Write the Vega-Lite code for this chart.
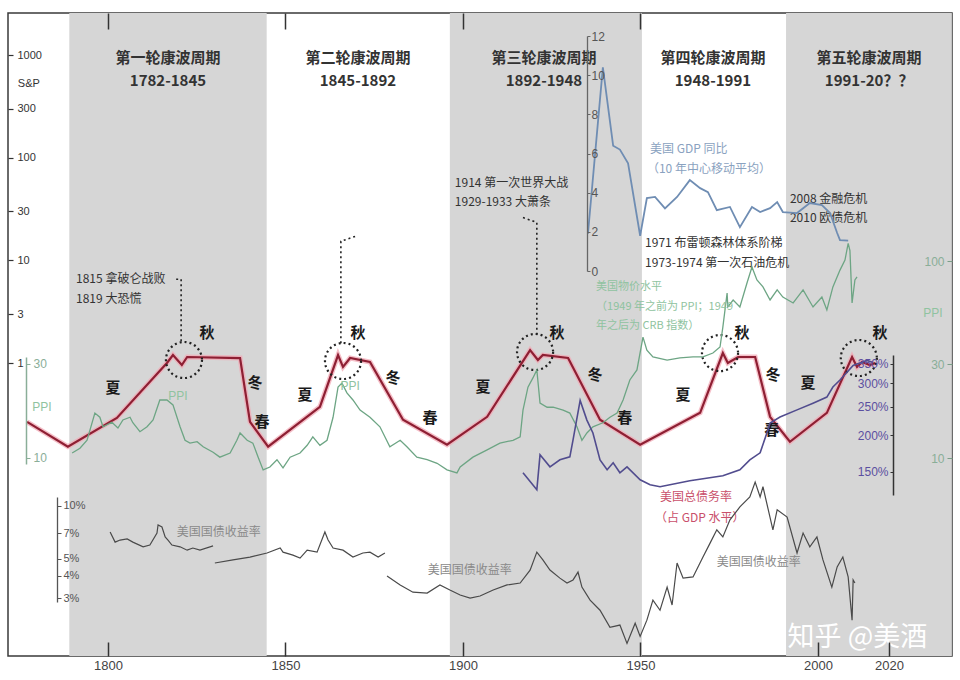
{
  "$schema": "https://vega.github.io/schema/vega-lite/v6.json",
  "width": 944,
  "height": 643,
  "autosize": {"type": "none"},
  "padding": {"left": 8, "top": 13, "right": 8, "bottom": 24},
  "background": "white",
  "config": {
    "view": {"stroke": "#3a3a3a", "strokeWidth": 1.5},
    "text": {"font": "Noto Sans CJK SC", "baseline": "middle"}
  },
  "datasets": {
    "bands": [
      {"start": 1789.1, "end": 1844.7},
      {"start": 1896.3, "end": 1950.4},
      {"start": 1991.0, "end": 2037.7}
    ],
    "titles": [
      {"year": 1816.9, "v": 935, "t": "第一轮康波周期"},
      {"year": 1816.9, "v": 559, "t": "1782-1845"},
      {"year": 1870.4, "v": 935, "t": "第二轮康波周期"},
      {"year": 1870.4, "v": 559, "t": "1845-1892"},
      {"year": 1922.8, "v": 935, "t": "第三轮康波周期"},
      {"year": 1922.8, "v": 559, "t": "1892-1948"},
      {"year": 1970.4, "v": 935, "t": "第四轮康波周期"},
      {"year": 1970.4, "v": 559, "t": "1948-1991"},
      {"year": 2014.4, "v": 935, "t": "第五轮康波周期"},
      {"year": 2014.4, "v": 559, "t": "1991-20？？"}
    ],
    "wave": [
      {"year": 1777.2, "v": 0.267}, {"year": 1788.7, "v": 0.153}, {"year": 1802.5, "v": 0.292},
      {"year": 1816.6, "v": 1.0}, {"year": 1818.3, "v": 1.196}, {"year": 1820.8, "v": 0.956},
      {"year": 1822.3, "v": 1.144}, {"year": 1837.2, "v": 1.118}, {"year": 1840.0, "v": 0.267},
      {"year": 1845.1, "v": 0.153}, {"year": 1859.7, "v": 0.374}, {"year": 1864.8, "v": 1.196},
      {"year": 1866.2, "v": 0.915}, {"year": 1868.2, "v": 1.118}, {"year": 1873.8, "v": 1.023},
      {"year": 1883.1, "v": 0.28}, {"year": 1895.5, "v": 0.16}, {"year": 1906.8, "v": 0.299},
      {"year": 1918.9, "v": 1.337}, {"year": 1921.1, "v": 1.069}, {"year": 1922.5, "v": 1.196},
      {"year": 1929.6, "v": 1.118}, {"year": 1938.6, "v": 0.28}, {"year": 1949.9, "v": 0.16},
      {"year": 1966.8, "v": 0.327}, {"year": 1973.2, "v": 1.25}, {"year": 1974.6, "v": 1.0},
      {"year": 1977.5, "v": 1.144}, {"year": 1982.3, "v": 1.144}, {"year": 1986.5, "v": 0.299},
      {"year": 1992.1, "v": 0.171}, {"year": 2002.5, "v": 0.327}, {"year": 2009.6, "v": 1.144},
      {"year": 2011.0, "v": 0.915}, {"year": 2012.4, "v": 1.023}, {"year": 2014.6, "v": 0.956},
      {"year": 2016.1, "v": 1.0}
    ],
    "dots": [
      {"id": 1, "o": 1, "year": 1819.2, "v": 6.54},
      {"id": 1, "o": 2, "year": 1820.6, "v": 6.54},
      {"id": 1, "o": 3, "year": 1820.6, "v": 1.6},
      {"id": 2, "o": 1, "year": 1869.6, "v": 17.1},
      {"id": 2, "o": 2, "year": 1865.6, "v": 15.3},
      {"id": 2, "o": 3, "year": 1865.6, "v": 1.5},
      {"id": 3, "o": 1, "year": 1916.9, "v": 26.1},
      {"id": 3, "o": 2, "year": 1920.8, "v": 23.4},
      {"id": 3, "o": 3, "year": 1920.8, "v": 1.79}
    ],
    "circles": [
      {"year": 1821.4, "v": 1.069}, {"year": 1866.2, "v": 1.046}, {"year": 1920.3, "v": 1.279},
      {"year": 1972.4, "v": 1.25}, {"year": 2011.5, "v": 1.118}
    ],
    "events": [
      {"year": 1791.0, "v": 6.54, "t": "1815  拿破仑战败"},
      {"year": 1791.0, "v": 4.18, "t": "1819  大恐慌"},
      {"year": 1897.7, "v": 57.2, "t": "1914  第一次世界大战"},
      {"year": 1897.7, "v": 36.6, "t": "1929-1933  大萧条"},
      {"year": 1951.3, "v": 14.6, "t": "1971  布雷顿森林体系阶梯"},
      {"year": 1951.3, "v": 9.35, "t": "1973-1974  第一次石油危机"},
      {"year": 1992.1, "v": 40.0, "t": "2008  金融危机"},
      {"year": 1992.1, "v": 25.6, "t": "2010  欧债危机"}
    ],
    "seasons": [
      {"year": 1801.4, "v": 0.572, "t": "夏"}, {"year": 1827.9, "v": 1.955, "t": "秋"},
      {"year": 1841.4, "v": 0.639, "t": "冬"}, {"year": 1843.4, "v": 0.267, "t": "春"},
      {"year": 1855.5, "v": 0.489, "t": "夏"}, {"year": 1870.4, "v": 1.955, "t": "秋"},
      {"year": 1880.3, "v": 0.715, "t": "冬"}, {"year": 1890.7, "v": 0.292, "t": "春"},
      {"year": 1905.6, "v": 0.585, "t": "夏"}, {"year": 1926.5, "v": 1.955, "t": "秋"},
      {"year": 1937.2, "v": 0.765, "t": "冬"}, {"year": 1945.6, "v": 0.292, "t": "春"},
      {"year": 1962.0, "v": 0.489, "t": "夏"}, {"year": 1978.6, "v": 1.955, "t": "秋"},
      {"year": 1987.3, "v": 0.765, "t": "冬"}, {"year": 1987.0, "v": 0.224, "t": "春"},
      {"year": 1997.2, "v": 0.639, "t": "夏"}, {"year": 2017.5, "v": 1.955, "t": "秋"}
    ],
    "spLabel": [{"year": 1774.6, "v": 523, "t": "S&P"}],
    "ppi": [
      {"year": 1789.9, "v": 10.6}, {"year": 1792.1, "v": 11.2}, {"year": 1794.1, "v": 12.3},
      {"year": 1796.3, "v": 16.9}, {"year": 1797.7, "v": 16.1}, {"year": 1798.6, "v": 14.4},
      {"year": 1801.1, "v": 15.2}, {"year": 1802.8, "v": 14.2}, {"year": 1804.2, "v": 15.6},
      {"year": 1806.2, "v": 16.1}, {"year": 1807.0, "v": 15.1}, {"year": 1809.0, "v": 13.6},
      {"year": 1811.0, "v": 14.4}, {"year": 1812.7, "v": 15.6}, {"year": 1814.6, "v": 19.7},
      {"year": 1816.6, "v": 19.7}, {"year": 1818.3, "v": 18.6}, {"year": 1820.3, "v": 14.4},
      {"year": 1821.7, "v": 12.3}, {"year": 1823.1, "v": 11.9}, {"year": 1825.1, "v": 12.1},
      {"year": 1826.8, "v": 11.4}, {"year": 1829.6, "v": 10.7}, {"year": 1831.5, "v": 10.1},
      {"year": 1834.4, "v": 10.6}, {"year": 1836.3, "v": 12.3}, {"year": 1837.2, "v": 13.4},
      {"year": 1839.2, "v": 12.3}, {"year": 1840.8, "v": 11.9}, {"year": 1842.3, "v": 10.1},
      {"year": 1843.7, "v": 8.7}, {"year": 1845.6, "v": 9.0}, {"year": 1847.6, "v": 9.8},
      {"year": 1849.3, "v": 8.9}, {"year": 1851.3, "v": 10.1}, {"year": 1854.1, "v": 10.6},
      {"year": 1856.1, "v": 11.6}, {"year": 1857.7, "v": 12.8}, {"year": 1859.7, "v": 11.6},
      {"year": 1861.7, "v": 12.3}, {"year": 1863.4, "v": 16.1}, {"year": 1864.8, "v": 22.9},
      {"year": 1865.9, "v": 24.0}, {"year": 1867.3, "v": 21.4}, {"year": 1869.0, "v": 19.7},
      {"year": 1871.0, "v": 17.5}, {"year": 1873.8, "v": 16.1}, {"year": 1876.6, "v": 14.4},
      {"year": 1879.4, "v": 11.4}, {"year": 1882.3, "v": 12.3}, {"year": 1884.2, "v": 11.4},
      {"year": 1887.0, "v": 10.1}, {"year": 1889.9, "v": 9.8}, {"year": 1892.7, "v": 9.4},
      {"year": 1895.5, "v": 8.7}, {"year": 1898.3, "v": 8.4}, {"year": 1899.2, "v": 9.0},
      {"year": 1902.8, "v": 10.1}, {"year": 1906.8, "v": 11.0}, {"year": 1910.4, "v": 11.9},
      {"year": 1914.1, "v": 12.3}, {"year": 1916.1, "v": 12.8}, {"year": 1916.9, "v": 17.5},
      {"year": 1918.3, "v": 22.9}, {"year": 1919.7, "v": 25.5}, {"year": 1920.8, "v": 28.0},
      {"year": 1921.7, "v": 19.0}, {"year": 1923.7, "v": 18.1}, {"year": 1925.4, "v": 18.1},
      {"year": 1928.2, "v": 17.5}, {"year": 1930.1, "v": 16.9}, {"year": 1932.1, "v": 14.4},
      {"year": 1933.5, "v": 12.3}, {"year": 1934.9, "v": 13.4}, {"year": 1936.6, "v": 14.4},
      {"year": 1939.4, "v": 15.1}, {"year": 1941.4, "v": 16.1}, {"year": 1943.4, "v": 16.9},
      {"year": 1945.1, "v": 19.7}, {"year": 1947.0, "v": 24.9}, {"year": 1949.0, "v": 28.0},
      {"year": 1950.7, "v": 41.1}, {"year": 1951.8, "v": 35.3}, {"year": 1953.5, "v": 32.6},
      {"year": 1957.5, "v": 31.4}, {"year": 1961.1, "v": 32.2}, {"year": 1964.8, "v": 32.6},
      {"year": 1967.6, "v": 32.6}, {"year": 1970.4, "v": 34.1}, {"year": 1972.4, "v": 36.6},
      {"year": 1973.2, "v": 46.2}, {"year": 1974.4, "v": 68.8}, {"year": 1974.6, "v": 58.4},
      {"year": 1976.1, "v": 63.4}, {"year": 1978.0, "v": 58.4}, {"year": 1980.0, "v": 77.3},
      {"year": 1981.4, "v": 93.2}, {"year": 1982.8, "v": 80.2}, {"year": 1984.5, "v": 73.9},
      {"year": 1986.5, "v": 63.4}, {"year": 1988.5, "v": 71.3}, {"year": 1990.1, "v": 65.6},
      {"year": 1993.0, "v": 61.2}, {"year": 1995.8, "v": 71.3}, {"year": 1998.6, "v": 58.4},
      {"year": 2001.1, "v": 65.6}, {"year": 2002.5, "v": 56.4}, {"year": 2004.2, "v": 73.9},
      {"year": 2006.2, "v": 89.9}, {"year": 2007.6, "v": 101}, {"year": 2008.5, "v": 123},
      {"year": 2009.0, "v": 113}, {"year": 2009.6, "v": 61.2}, {"year": 2010.4, "v": 80.2},
      {"year": 2011.0, "v": 83.0}
    ],
    "ppiNotes": [
      {"year": 1937.5, "v": 73.8, "t": "美国物价水平"},
      {"year": 1937.5, "v": 58.4, "t": "（1949 年之前为 PPI；1949"},
      {"year": 1937.5, "v": 46.8, "t": "年之后为 CRB 指数）"}
    ],
    "ppiTags": [
      {"year": 1819.7, "v": 20.7, "t": "PPI"},
      {"year": 1868.2, "v": 23.2, "t": "PPI"},
      {"year": 2032.4, "v": 54.5, "t": "PPI"}
    ],
    "ppiLeftTag": [{"year": 1781.4, "v": 18.2, "t": "PPI"}],
    "gdp": [
      {"year": 1935.2, "v": 1.9}, {"year": 1939.4, "v": 10.4}, {"year": 1942.3, "v": 6.4},
      {"year": 1944.2, "v": 6.2}, {"year": 1946.5, "v": 5.5}, {"year": 1949.9, "v": 1.8},
      {"year": 1951.8, "v": 3.72}, {"year": 1954.1, "v": 3.78}, {"year": 1956.9, "v": 3.2},
      {"year": 1960.3, "v": 3.78}, {"year": 1963.9, "v": 4.64}, {"year": 1966.8, "v": 4.23},
      {"year": 1969.0, "v": 4.03}, {"year": 1971.5, "v": 3.11}, {"year": 1975.2, "v": 3.27},
      {"year": 1978.0, "v": 2.24}, {"year": 1981.4, "v": 3.27}, {"year": 1983.7, "v": 3.01},
      {"year": 1986.5, "v": 3.21}, {"year": 1988.5, "v": 3.52}, {"year": 1990.1, "v": 3.01},
      {"year": 1994.1, "v": 2.96}, {"year": 1997.7, "v": 3.47}, {"year": 2001.1, "v": 3.37},
      {"year": 2003.4, "v": 2.96}, {"year": 2005.4, "v": 1.94}, {"year": 2006.2, "v": 1.58},
      {"year": 2008.5, "v": 1.55}
    ],
    "gdpNotes": [
      {"year": 1952.7, "v": 6.22, "t": "美国 GDP 同比"},
      {"year": 1951.8, "v": 5.2, "t": "（10 年中心移动平均）"}
    ],
    "debt": [
      {"year": 1916.9, "v": 148.8}, {"year": 1920.8, "v": 130.3}, {"year": 1921.7, "v": 171.3},
      {"year": 1924.5, "v": 155.9}, {"year": 1927.3, "v": 164.7}, {"year": 1930.1, "v": 168.6},
      {"year": 1931.0, "v": 192.6}, {"year": 1933.0, "v": 262.6}, {"year": 1934.9, "v": 225.0},
      {"year": 1936.6, "v": 203.4}, {"year": 1938.6, "v": 164.7}, {"year": 1940.6, "v": 152.4},
      {"year": 1942.3, "v": 161.0}, {"year": 1944.2, "v": 148.8}, {"year": 1946.2, "v": 155.9},
      {"year": 1949.9, "v": 140.9}, {"year": 1952.7, "v": 135.5}, {"year": 1955.5, "v": 133.4},
      {"year": 1963.9, "v": 139.8}, {"year": 1973.2, "v": 145.4}, {"year": 1978.0, "v": 152.4},
      {"year": 1980.8, "v": 164.7}, {"year": 1983.7, "v": 174.0}, {"year": 1985.6, "v": 203.4},
      {"year": 1986.5, "v": 219.9}, {"year": 1989.3, "v": 230.6}, {"year": 1994.1, "v": 243.8},
      {"year": 1998.6, "v": 256.9}, {"year": 2002.5, "v": 269.5}, {"year": 2004.2, "v": 291.6},
      {"year": 2006.2, "v": 308.3}, {"year": 2009.9, "v": 345.6}, {"year": 2013.8, "v": 359.4},
      {"year": 2015.5, "v": 353.7}
    ],
    "debtNotes": [
      {"year": 1955.5, "v": 123.4, "t": "美国总债务率"},
      {"year": 1954.1, "v": 104.7, "t": "（占 GDP 水平）"}
    ],
    "yield": [
      {"seg": 1, "year": 1800.6, "v": 7.1}, {"seg": 1, "year": 1802.0, "v": 6.22}, {"seg": 1, "year": 1803.4, "v": 6.39},
      {"seg": 1, "year": 1805.4, "v": 6.48}, {"seg": 1, "year": 1807.0, "v": 6.22}, {"seg": 1, "year": 1809.9, "v": 5.85},
      {"seg": 1, "year": 1811.8, "v": 5.99}, {"seg": 1, "year": 1813.8, "v": 7.0}, {"seg": 1, "year": 1814.1, "v": 7.78},
      {"seg": 1, "year": 1815.2, "v": 7.58}, {"seg": 1, "year": 1816.1, "v": 6.65}, {"seg": 1, "year": 1816.9, "v": 6.39},
      {"seg": 1, "year": 1818.0, "v": 5.99}, {"seg": 1, "year": 1820.3, "v": 5.85}, {"seg": 1, "year": 1822.3, "v": 5.6},
      {"seg": 1, "year": 1823.9, "v": 5.76}, {"seg": 1, "year": 1825.9, "v": 5.6}, {"seg": 1, "year": 1829.6, "v": 5.92},
      {"seg": 2, "year": 1830.1, "v": 4.74}, {"seg": 2, "year": 1835.2, "v": 4.93}, {"seg": 2, "year": 1840.0, "v": 5.12},
      {"seg": 2, "year": 1844.8, "v": 5.4}, {"seg": 2, "year": 1848.5, "v": 5.76}, {"seg": 2, "year": 1849.3, "v": 5.46},
      {"seg": 2, "year": 1852.1, "v": 5.25}, {"seg": 2, "year": 1854.1, "v": 5.05}, {"seg": 2, "year": 1856.1, "v": 5.6},
      {"seg": 2, "year": 1858.9, "v": 5.46}, {"seg": 2, "year": 1861.1, "v": 7.1}, {"seg": 2, "year": 1862.0, "v": 6.39},
      {"seg": 2, "year": 1863.4, "v": 5.76}, {"seg": 2, "year": 1866.2, "v": 5.6}, {"seg": 2, "year": 1869.0, "v": 5.12},
      {"seg": 2, "year": 1871.8, "v": 5.4}, {"seg": 2, "year": 1873.8, "v": 5.46}, {"seg": 2, "year": 1876.1, "v": 5.12},
      {"seg": 2, "year": 1878.0, "v": 5.4},
      {"seg": 3, "year": 1878.6, "v": 4.0}, {"seg": 3, "year": 1882.3, "v": 3.56}, {"seg": 3, "year": 1885.9, "v": 3.24},
      {"seg": 3, "year": 1889.9, "v": 3.2}, {"seg": 3, "year": 1893.5, "v": 3.56}, {"seg": 3, "year": 1896.3, "v": 3.33},
      {"seg": 3, "year": 1899.2, "v": 3.12}, {"seg": 3, "year": 1902.0, "v": 3.0}, {"seg": 3, "year": 1904.8, "v": 3.08},
      {"seg": 3, "year": 1908.5, "v": 3.33}, {"seg": 3, "year": 1912.4, "v": 3.56}, {"seg": 3, "year": 1916.1, "v": 3.65},
      {"seg": 3, "year": 1918.9, "v": 4.32}, {"seg": 3, "year": 1920.8, "v": 5.46}, {"seg": 3, "year": 1922.5, "v": 4.93},
      {"seg": 3, "year": 1924.5, "v": 4.32}, {"seg": 3, "year": 1927.3, "v": 3.89}, {"seg": 3, "year": 1929.3, "v": 3.65},
      {"seg": 3, "year": 1931.0, "v": 3.8}, {"seg": 3, "year": 1932.4, "v": 4.21}, {"seg": 3, "year": 1933.5, "v": 3.46},
      {"seg": 3, "year": 1935.8, "v": 2.92}, {"seg": 3, "year": 1938.6, "v": 2.56}, {"seg": 3, "year": 1941.4, "v": 2.05},
      {"seg": 3, "year": 1944.2, "v": 2.11}, {"seg": 3, "year": 1946.2, "v": 1.66}, {"seg": 3, "year": 1948.5, "v": 2.16},
      {"seg": 3, "year": 1949.9, "v": 1.82}, {"seg": 3, "year": 1951.8, "v": 2.25}, {"seg": 3, "year": 1953.5, "v": 2.92},
      {"seg": 3, "year": 1955.5, "v": 2.56}, {"seg": 3, "year": 1957.5, "v": 3.46}, {"seg": 3, "year": 1958.9, "v": 2.74},
      {"seg": 3, "year": 1960.3, "v": 4.74}, {"seg": 3, "year": 1962.0, "v": 3.89}, {"seg": 3, "year": 1964.8, "v": 3.95},
      {"seg": 3, "year": 1967.6, "v": 5.12}, {"seg": 3, "year": 1969.6, "v": 6.14}, {"seg": 3, "year": 1971.5, "v": 7.3},
      {"seg": 3, "year": 1973.2, "v": 6.66}, {"seg": 3, "year": 1975.2, "v": 8.32}, {"seg": 3, "year": 1978.0, "v": 9.84},
      {"seg": 3, "year": 1980.8, "v": 11.2}, {"seg": 3, "year": 1982.3, "v": 13.6}, {"seg": 3, "year": 1983.7, "v": 11.2},
      {"seg": 3, "year": 1984.5, "v": 12.8}, {"seg": 3, "year": 1987.3, "v": 7.3}, {"seg": 3, "year": 1988.5, "v": 9.49},
      {"seg": 3, "year": 1991.3, "v": 8.63}, {"seg": 3, "year": 1994.1, "v": 5.4}, {"seg": 3, "year": 1995.8, "v": 7.0},
      {"seg": 3, "year": 1997.7, "v": 5.85}, {"seg": 3, "year": 1999.7, "v": 6.65}, {"seg": 3, "year": 2001.4, "v": 4.93},
      {"seg": 3, "year": 2003.9, "v": 3.46}, {"seg": 3, "year": 2005.4, "v": 4.5}, {"seg": 3, "year": 2007.0, "v": 5.12},
      {"seg": 3, "year": 2008.5, "v": 3.95}, {"seg": 3, "year": 2009.6, "v": 2.25}, {"seg": 3, "year": 2009.9, "v": 3.8},
      {"seg": 3, "year": 2010.4, "v": 3.65}
    ],
    "yieldNotes": [
      {"year": 1819.4, "v": 7.1, "t": "美国国债收益率"},
      {"year": 1890.1, "v": 4.32, "t": "美国国债收益率"},
      {"year": 1971.5, "v": 4.8, "t": "美国国债收益率"}
    ],
    "mark": [{"year": 2011.1, "v": 1.78, "t": "知乎 @美酒"}]
  },
  "resolve": {"scale": {"y": "independent"}, "axis": {"x": "independent", "y": "independent"}},
  "encoding": {
    "x": {"field": "year", "type": "quantitative", "scale": {"domain": [1771.83, 2037.75], "nice": false, "zero": false}, "axis": null}
  },
  "layer": [
    {
      "data": {"name": "bands"},
      "mark": {"type": "rect", "color": "#d6d6d6"},
      "encoding": {
        "x": {"field": "start", "type": "quantitative", "scale": {"domain": [1771.83, 2037.75], "nice": false, "zero": false},
          "axis": {"orient": "bottom", "values": [1800, 1850, 1900, 1950, 2000, 2020], "format": "d", "domain": false, "grid": false,
            "tickSize": -14, "tickColor": "#333", "tickWidth": 1.5, "labelPadding": 17, "labelFont": "Liberation Sans", "labelFontSize": 13,
            "labelColor": "#444", "labelFlush": false, "title": null, "zindex": 1}},
        "x2": {"field": "end"}
      }
    },
    {
      "encoding": {
        "x": {"field": "year", "type": "quantitative", "scale": {"domain": [1771.83, 2037.75], "nice": false, "zero": false},
          "axis": {"orient": "top", "values": [1800, 1850, 1900, 1950], "labels": false, "domain": false, "grid": false,
            "tickSize": -16, "tickColor": "#333", "tickWidth": 1.5, "title": null, "zindex": 1}},
        "y": {"field": "v", "type": "quantitative", "scale": {"type": "log", "domain": [1, 1000], "range": [350, 42], "nice": false},
          "axis": {"orient": "right", "offset": -944, "values": [1, 3, 10, 30, 100, 300, 1000], "format": "d", "domain": false, "grid": false,
            "tickSize": 5, "tickColor": "#333", "tickWidth": 1.2, "labelPadding": 4, "labelFont": "Liberation Sans", "labelFontSize": 11,
            "labelColor": "#333", "labelOverlap": false, "title": null, "zindex": 1}}
      },
      "layer": [
        {"data": {"name": "wave"}, "mark": {"type": "line", "color": "#f2a9b6", "strokeWidth": 5, "opacity": 0.75}},
        {"data": {"name": "wave"}, "mark": {"type": "line", "color": "#8e1f33", "strokeWidth": 2.2}},
        {"data": {"name": "dots"}, "mark": {"type": "line", "color": "#222", "strokeWidth": 1.6, "strokeDash": [2, 3]},
          "encoding": {"detail": {"field": "id"}, "order": {"field": "o"}}},
        {"data": {"name": "circles"}, "mark": {"type": "point", "shape": "circle", "size": 1300, "filled": false, "color": "#222", "strokeWidth": 2.2, "strokeDash": [2, 3], "opacity": 1}},
        {"data": {"name": "titles"}, "mark": {"type": "text", "fontSize": 15, "fontWeight": "bold", "color": "#333", "align": "center"},
          "encoding": {"text": {"field": "t"}}},
        {"data": {"name": "events"}, "mark": {"type": "text", "fontSize": 12, "color": "#333", "align": "left"},
          "encoding": {"text": {"field": "t"}}},
        {"data": {"name": "seasons"}, "mark": {"type": "text", "fontSize": 15, "fontWeight": "bold", "color": "#1a1a1a", "align": "center"},
          "encoding": {"text": {"field": "t"}}},
        {"data": {"name": "spLabel"}, "mark": {"type": "text", "fontSize": 11, "font": "Liberation Sans", "color": "#333", "align": "left"},
          "encoding": {"text": {"field": "t"}}}
      ]
    },
    {
      "encoding": {
        "y": {"field": "v", "type": "quantitative", "scale": {"type": "log", "domain": [10, 100], "range": [445, 248], "nice": false},
          "axis": {"orient": "left", "offset": -944, "values": [10, 30, 100], "format": "d", "domain": false, "grid": false,
            "tickSize": 5, "tickColor": "#7a9f88", "labelColor": "#8aae98", "labelFontSize": 12, "labelPadding": 3,
            "labelFont": "Liberation Sans", "labelOverlap": false, "title": null, "zindex": 1}}
      },
      "layer": [
        {"data": {"name": "ppi"}, "mark": {"type": "line", "color": "#6da584", "strokeWidth": 1.3}},
        {"data": {"name": "ppiNotes"}, "mark": {"type": "text", "fontSize": 11, "color": "#8fc3a0", "align": "left"},
          "encoding": {"text": {"field": "t"}}},
        {"data": {"name": "ppiTags"}, "mark": {"type": "text", "fontSize": 12, "font": "Liberation Sans", "color": "#8fc3a0", "align": "center"},
          "encoding": {"text": {"field": "t"}}}
      ]
    },
    {
      "data": {"name": "ppiLeftTag"},
      "mark": {"type": "text", "fontSize": 12, "font": "Liberation Sans", "color": "#8fc3a0", "align": "center"},
      "encoding": {
        "text": {"field": "t"},
        "y": {"field": "v", "type": "quantitative", "scale": {"type": "log", "domain": [9.3, 32.5], "range": [451, 344], "nice": false},
          "axis": {"orient": "right", "offset": -926, "values": [10, 30], "format": "d", "domain": true, "domainColor": "#8aae98", "domainWidth": 1.5,
            "grid": false, "tickSize": 4, "tickColor": "#8aae98", "labelColor": "#8aae98", "labelFontSize": 12, "labelPadding": 3,
            "labelFont": "Liberation Sans", "labelOverlap": false, "title": null, "zindex": 1}}
      }
    },
    {
      "encoding": {
        "y": {"field": "v", "type": "quantitative", "scale": {"domain": [0, 12], "range": [258, 23], "nice": false, "zero": false},
          "axis": {"orient": "right", "offset": -365, "values": [0, 2, 4, 6, 8, 10, 12], "domain": true, "domainColor": "#666", "domainWidth": 1.3,
            "grid": false, "tickSize": 3, "tickColor": "#666", "labelColor": "#555", "labelFontSize": 12, "labelPadding": 1,
            "labelFont": "Liberation Sans", "labelOverlap": false, "title": null, "zindex": 1}}
      },
      "layer": [
        {"data": {"name": "gdp"}, "mark": {"type": "line", "color": "#6f8db3", "strokeWidth": 1.8}},
        {"data": {"name": "gdpNotes"}, "mark": {"type": "text", "fontSize": 12, "color": "#8aa2c0", "align": "left"},
          "encoding": {"text": {"field": "t"}}}
      ]
    },
    {
      "encoding": {
        "y": {"field": "v", "type": "quantitative", "scale": {"type": "log", "domain": [125, 375], "range": [482, 342], "nice": false},
          "axis": {"orient": "left", "offset": -885, "values": [150, 200, 250, 300, 350], "labelExpr": "datum.value + '%'", "domain": true,
            "domainColor": "#333", "domainWidth": 1.5, "grid": false, "tickSize": 3, "tickColor": "#333", "labelColor": "#5b4fa0",
            "labelFontSize": 12, "labelPadding": 2, "labelFont": "Liberation Sans", "labelOverlap": false, "title": null, "zindex": 1}}
      },
      "layer": [
        {"data": {"name": "debt"}, "mark": {"type": "line", "color": "#514c8e", "strokeWidth": 1.6}},
        {"data": {"name": "debtNotes"}, "mark": {"type": "text", "fontSize": 12, "color": "#c9506b", "align": "left"},
          "encoding": {"text": {"field": "t"}}}
      ]
    },
    {
      "encoding": {
        "y": {"field": "v", "type": "quantitative", "scale": {"type": "log", "domain": [2.85, 11.2], "range": [589, 484], "nice": false},
          "axis": {"orient": "right", "offset": -895, "values": [3, 4, 5, 7, 10], "labelExpr": "datum.value + '%'", "domain": true,
            "domainColor": "#555", "domainWidth": 1.3, "grid": false, "tickSize": 4, "tickColor": "#555", "labelColor": "#555",
            "labelFontSize": 11, "labelPadding": 2, "labelFont": "Liberation Sans", "labelOverlap": false, "title": null, "zindex": 1}}
      },
      "layer": [
        {"data": {"name": "yield"}, "mark": {"type": "line", "color": "#4a4a4a", "strokeWidth": 1.2},
          "encoding": {"detail": {"field": "seg"}}},
        {"data": {"name": "yieldNotes"}, "mark": {"type": "text", "fontSize": 12, "color": "#8a8a8a", "align": "left"},
          "encoding": {"text": {"field": "t"}}},
        {"data": {"name": "mark"}, "mark": {"type": "text", "fontSize": 27, "color": "#ffffff", "align": "center"},
          "encoding": {"text": {"field": "t"}}}
      ]
    }
  ]
}
